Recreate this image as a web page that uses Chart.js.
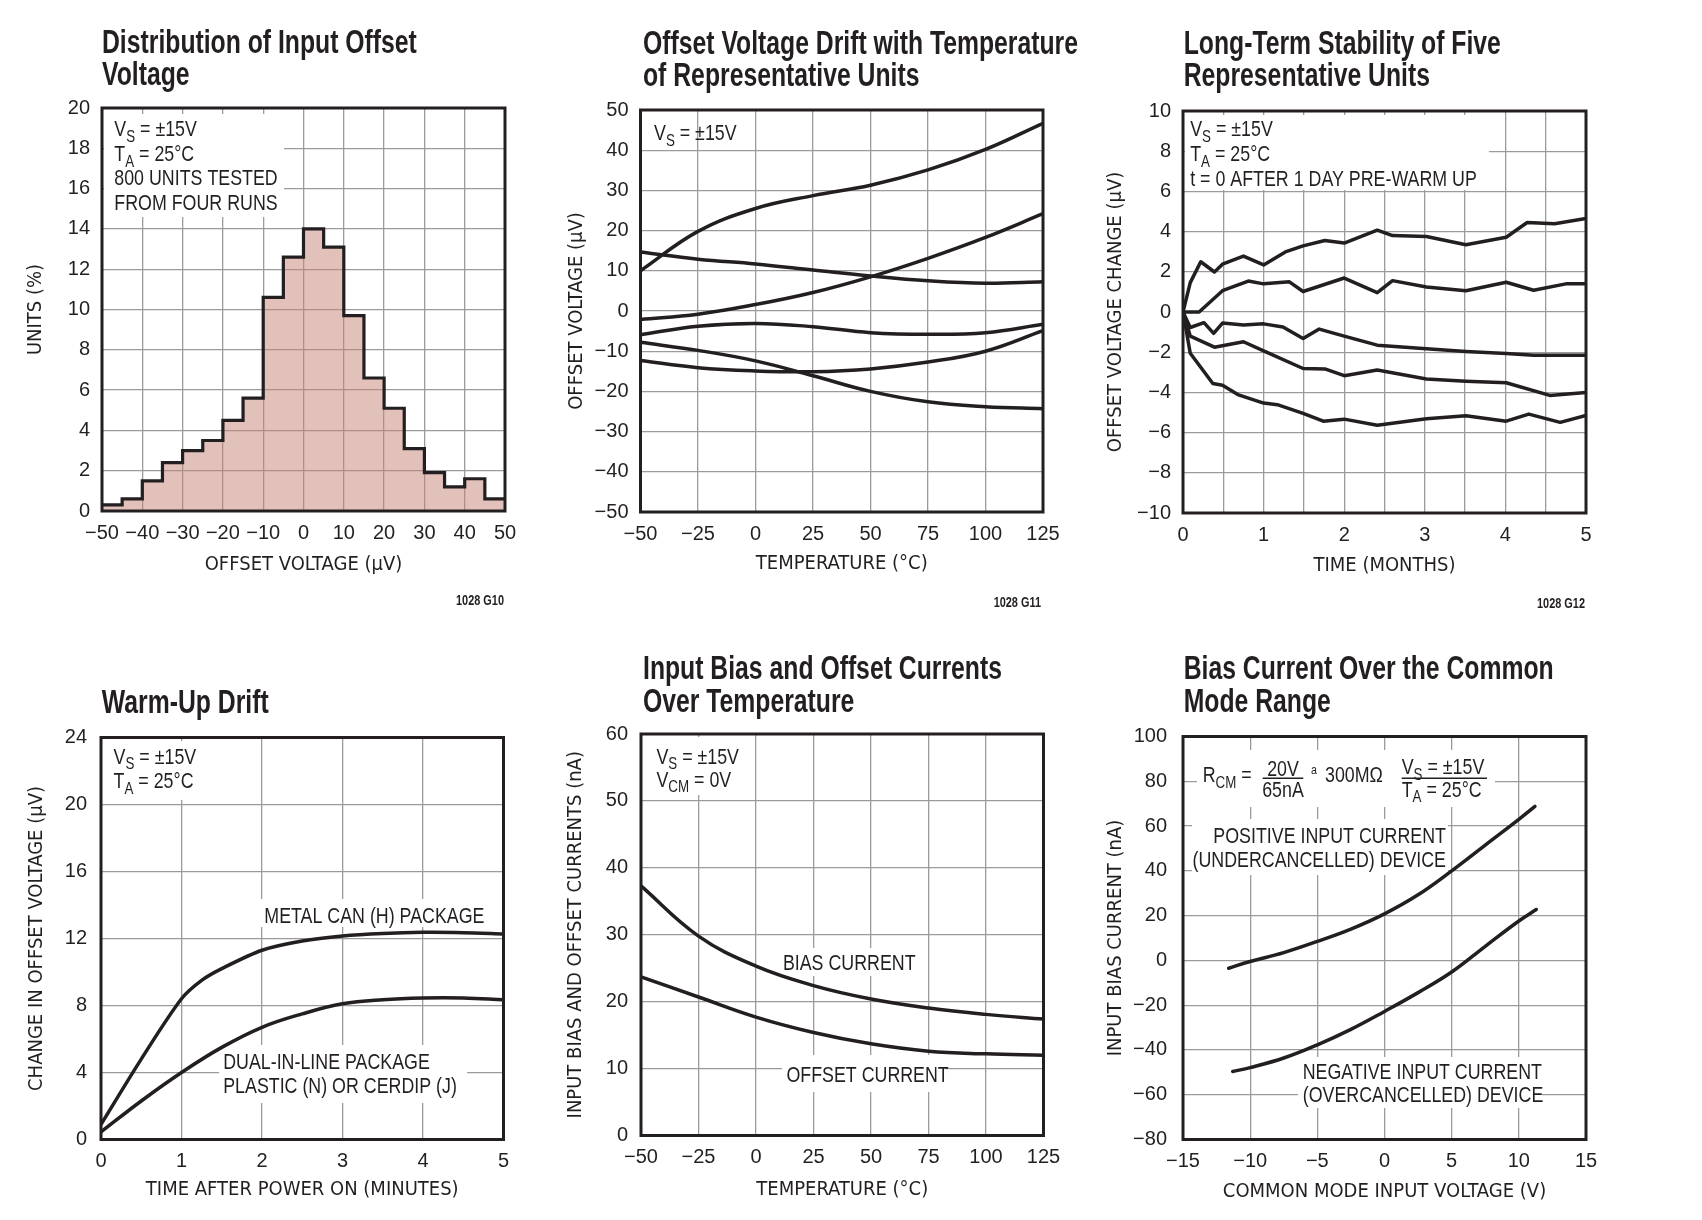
<!DOCTYPE html>
<html>
<head>
<meta charset="utf-8">
<script src="https://cdn.jsdelivr.net/npm/chart.js@4.4.1/dist/chart.umd.min.js"></script>
<style>
  html, body { margin: 0; background: #fff; }
  #page { position: relative; width: 1702px; height: 1220px; background: #fff; }
  #page canvas { position: absolute; }
</style>
</head>
<body>
<div id="page"></div>
<script>
// --- Distribution of input offset voltage (5 uV bins) ---
const offsetBinEdges = [-50, -45, -40, -35, -30, -25, -20, -15, -10, -5, 0, 5, 10, 15, 20, 25, 30, 35, 40, 45, 50];
const unitsPct = [0.3, 0.6, 1.5, 2.4, 3.0, 3.5, 4.5, 5.6, 10.6, 12.6, 14.0, 13.1, 9.7, 6.6, 5.1, 3.1, 1.9, 1.2, 1.6, 0.6];

// --- Offset voltage drift with temperature ---
const driftTemps = [-50, -25, 0, 25, 50, 75, 100, 125];
const driftUnitA = [10.0, 19.8, 25.5, 28.7, 31.3, 35.1, 40.2, 46.7];
const driftUnitB = [14.7, 12.9, 11.7, 10.2, 8.7, 7.5, 6.9, 7.3];
const driftUnitC = [-2.1, -0.8, 1.6, 4.6, 8.5, 13.1, 18.3, 24.2];
const driftUnitD = [-5.9, -3.8, -3.1, -3.9, -5.4, -5.8, -5.4, -3.3];
const driftUnitE = [-7.8, -9.8, -12.4, -16.1, -20.0, -22.6, -23.8, -24.3];
const driftUnitF = [-12.3, -14.1, -14.9, -15.1, -14.4, -12.7, -10.0, -4.9];

// --- Long-term stability (months, uV change) ---
const stabMonths1 = [0, 0.09, 0.22, 0.39, 0.49, 0.75, 1, 1.27, 1.49, 1.76, 2, 2.41, 2.6, 3.02, 3.51, 4.01, 4.27, 4.61, 5];
const stabUnit1 = [0, 1.46, 2.5, 1.99, 2.38, 2.78, 2.34, 2.99, 3.29, 3.56, 3.43, 4.07, 3.8, 3.76, 3.35, 3.72, 4.45, 4.39, 4.65];
const stabMonths2 = [0, 0.2, 0.49, 0.81, 1, 1.32, 1.49, 2, 2.41, 2.6, 3.02, 3.51, 4.01, 4.35, 4.75, 5];
const stabUnit2 = [0, 0, 1.06, 1.54, 1.4, 1.5, 1.02, 1.69, 0.96, 1.56, 1.24, 1.06, 1.48, 1.08, 1.4, 1.4];
const stabMonths3 = [0, 0.09, 0.26, 0.38, 0.49, 0.75, 1, 1.24, 1.49, 1.69, 2, 2.41, 3.02, 3.51, 4.01, 4.35, 5];
const stabUnit3 = [0, -0.77, -0.53, -1.06, -0.55, -0.65, -0.59, -0.75, -1.32, -0.85, -1.2, -1.65, -1.83, -1.97, -2.07, -2.15, -2.15];
const stabMonths4 = [0, 0.09, 0.39, 0.75, 1, 1.49, 1.76, 2, 2.41, 3.02, 3.51, 4.01, 4.55, 5];
const stabUnit4 = [0, -1.2, -1.75, -1.48, -1.93, -2.81, -2.83, -3.17, -2.89, -3.33, -3.44, -3.52, -4.15, -4.0];
const stabMonths5 = [0, 0.09, 0.37, 0.49, 0.68, 1, 1.17, 1.49, 1.74, 2, 2.41, 3.02, 3.51, 4.01, 4.29, 4.68, 5];
const stabUnit5 = [0, -2.05, -3.56, -3.64, -4.11, -4.53, -4.61, -5.04, -5.43, -5.33, -5.63, -5.31, -5.16, -5.43, -5.08, -5.49, -5.14];

// --- Warm-up drift ---
const metalCanMinutes = [0, 0.5, 1, 1.25, 1.5, 2, 2.5, 3, 3.5, 4, 4.5, 5];
const metalCanDrift = [0.9, 4.8, 8.4, 9.5, 10.2, 11.3, 11.85, 12.15, 12.3, 12.37, 12.35, 12.27];
const dipMinutes = [0, 0.5, 1, 1.5, 2, 2.5, 3, 3.5, 4, 4.5, 5];
const dipDrift = [0.45, 2.3, 4.0, 5.5, 6.7, 7.5, 8.1, 8.35, 8.45, 8.45, 8.35];

// --- Input bias and offset currents over temperature ---
const currentTemps = [-50, -25, 0, 25, 50, 75, 100, 125];
const biasCurrent = [37.3, 29.8, 25.3, 22.4, 20.4, 19.05, 18.1, 17.4];
const offsetCurrent = [23.7, 20.7, 17.7, 15.4, 13.7, 12.6, 12.2, 12.0];

// --- Bias current over the common mode range ---
const posCmVolts = [-11.6, -10, -7.5, -5, -2.5, 0, 2.5, 5, 7.5, 10, 11.2];
const posBiasNA = [-3.5, -0.5, 3.5, 8.5, 14, 20.8, 29.3, 40, 51.5, 63, 68.8];
const negCmVolts = [-11.3, -10, -7.5, -5, -2.5, 0, 2.5, 5, 7.5, 10, 11.3];
const negBiasNA = [-49.6, -47.9, -43.6, -37.7, -30.8, -22.8, -14.4, -5.2, 6.3, 17.6, 22.7];

const ink = '#231f20';
const gridGray = '#9b9b9b';
const titleFamily = "'DejaVu Sans Condensed', 'Liberation Sans Narrow', 'Liberation Sans', sans-serif";
const textFamily = "'Liberation Sans', Arial, sans-serif";
const AXIS_SIZE = 20;
const NOTE_SQUEEZE = 0.81;

const pts = (xs, ys) => xs.map((x, i) => ({ x, y: ys[i] }));
const minus = v => String(v).replace('-', '\u2212');

// draws a line of text made of plain / subscript / superscript pieces, squeezed horizontally
function drawParts(ctx, parts, x, y, size, align, squeeze, weight) {
  const pieces = parts.map(p => typeof p === 'string' ? { t: p, s: size, dy: 0 }
    : p.sub ? { t: p.sub, s: size * 0.75, dy: size * 0.24 }
    : { t: p.sup, s: size * 0.6, dy: -size * 0.38 });
  let w = 0;
  pieces.forEach(p => {
    ctx.font = `${weight || 'normal'} ${p.s}px ${textFamily}`;
    p.w = ctx.measureText(p.t).width;
    w += p.w;
  });
  ctx.save();
  ctx.translate(x, y);
  ctx.scale(squeeze, 1);
  ctx.fillStyle = ink;
  ctx.textAlign = 'left';
  ctx.textBaseline = 'alphabetic';
  let cx = align === 'right' ? -w : align === 'center' ? -w / 2 : 0;
  pieces.forEach(p => {
    ctx.font = `${weight || 'normal'} ${p.s}px ${textFamily}`;
    ctx.fillText(p.t, cx, p.dy);
    cx += p.w;
  });
  ctx.restore();
}

function decor(panel) {
  const ox = panel.canvas.x, oy = panel.canvas.y;
  return {
    id: 'decor',
    beforeDatasetsDraw(chart) {
      const ctx = chart.ctx;
      ctx.save();
      ctx.translate(-ox, -oy);
      ctx.fillStyle = '#fff';
      (panel.boxes || []).forEach(([x0, y0, x1, y1]) => ctx.fillRect(x0, y0, x1 - x0, y1 - y0));
      (panel.notes || []).forEach(n => drawParts(ctx, n.parts, n.x, n.y, n.size || 22, n.align, NOTE_SQUEEZE));
      ctx.strokeStyle = ink;
      ctx.lineWidth = 1.5;
      (panel.rules || []).forEach(([x0, y, x1]) => {
        ctx.beginPath(); ctx.moveTo(x0, y); ctx.lineTo(x1, y); ctx.stroke();
      });
      ctx.restore();
    },
    afterDatasetsDraw(chart) {
      const { ctx, chartArea: a } = chart;
      ctx.save();
      ctx.strokeStyle = ink;
      ctx.lineWidth = 3;
      ctx.strokeRect(a.left, a.top, a.right - a.left, a.bottom - a.top);
      ctx.restore();
    },
    afterDraw(chart) {
      const ctx = chart.ctx;
      ctx.save();
      ctx.translate(-ox, -oy);
      panel.title.forEach((line, i) => drawParts(ctx, [line], panel.titleX, panel.titleY[i], 33, 'left', 0.75, 'bold'));
      if (panel.code) drawParts(ctx, [panel.code[0]], panel.code[1], panel.code[2], 14, 'right', 0.78, 'bold');
      ctx.restore();
    }
  };
}

function axis(o, boxSize, pad) {
  return {
    type: 'linear',
    min: o.min,
    max: o.max,
    ticks: {
      stepSize: o.step, padding: pad, color: ink, autoSkip: false, maxRotation: 0,
      font: { family: textFamily, size: AXIS_SIZE },
      callback: o.label || minus
    },
    grid: { color: gridGray, lineWidth: 1.3, drawTicks: false },
    border: { display: false },
    title: { display: true, text: o.title, color: ink, padding: 0, font: { family: titleFamily, size: AXIS_SIZE } },
    afterFit: s => { if (s.isHorizontal()) s.height = boxSize; else s.width = boxSize; }
  };
}

function buildPanel(panel, datasets, xOpts, yOpts) {
  const c = panel.canvas, p = panel.plot;
  const lh = AXIS_SIZE * 1.2;
  const yLeft = panel.yTitleX - lh / 2;
  const xBottom = panel.xTitleY + lh / 2;
  const canvas = document.createElement('canvas');
  canvas.width = c.w;
  canvas.height = c.h;
  canvas.style.left = c.x + 'px';
  canvas.style.top = c.y + 'px';
  document.getElementById('page').appendChild(canvas);
  return new Chart(canvas, {
    type: 'line',
    data: { datasets },
    options: {
      responsive: false,
      animation: false,
      events: [],
      layout: { padding: { left: yLeft - c.x, top: p.T - c.y, right: c.x + c.w - p.R, bottom: c.y + c.h - xBottom } },
      plugins: { legend: { display: false }, tooltip: { enabled: false } },
      elements: {
        point: { radius: 0 },
        line: { borderColor: ink, borderWidth: 3.5, fill: false, tension: 0.4, borderCapStyle: 'round' }
      },
      scales: {
        x: axis(xOpts, xBottom - p.B, 10),
        y: axis(yOpts, p.L - yLeft, panel.yPad)
      }
    },
    plugins: [decor(panel)]
  });
}

const vs = ['V', { sub: 'S' }, ' = \u00b115V'];
const ta = ['T', { sub: 'A' }, ' = 25\u00b0C'];

// 1. Distribution of Input Offset Voltage
buildPanel({
  canvas: { x: 0, y: 0, w: 545, h: 620 },
  plot: { L: 102, T: 108, R: 505, B: 511 },
  yTitleX: 36, xTitleY: 564.5, yPad: 12,
  title: ['Distribution of Input Offset', 'Voltage'], titleX: 102, titleY: [53.4, 85],
  code: ['1028 G10', 504, 605],
  boxes: [[104, 114, 284, 217]],
  notes: [
    { parts: vs, x: 114.3, y: 136.4 },
    { parts: ta, x: 114.3, y: 161.3 },
    { parts: ['800 UNITS TESTED'], x: 114.3, y: 185 },
    { parts: ['FROM FOUR RUNS'], x: 114.3, y: 209.6 }
  ]
}, [{
  data: offsetBinEdges.map((x, i) => ({ x, y: unitsPct[Math.min(i, unitsPct.length - 1)] })),
  stepped: 'before',
  tension: 0,
  fill: 'origin',
  backgroundColor: 'rgba(199,131,119,0.5)',
  borderWidth: 3.2,
  borderJoinStyle: 'miter'
}], { min: -50, max: 50, step: 10, title: 'OFFSET VOLTAGE (\u00b5V)' },
   { min: 0, max: 20, step: 2, title: 'UNITS (%)' });

// 2. Offset Voltage Drift with Temperature
buildPanel({
  canvas: { x: 545, y: 0, w: 545, h: 620 },
  plot: { L: 640.5, T: 110, R: 1043, B: 512 },
  yTitleX: 577, xTitleY: 563.5, yPad: 12,
  title: ['Offset Voltage Drift with Temperature', 'of Representative Units'], titleX: 643, titleY: [54.2, 86.2],
  code: ['1028 G11', 1041, 607],
  notes: [{ parts: vs, x: 654, y: 140.4 }]
}, [driftUnitA, driftUnitB, driftUnitC, driftUnitD, driftUnitE, driftUnitF].map(u => ({ data: pts(driftTemps, u) })),
   { min: -50, max: 125, step: 25, title: 'TEMPERATURE (\u00b0C)' },
   { min: -50, max: 50, step: 10, title: 'OFFSET VOLTAGE (\u00b5V)' });

// 3. Long-Term Stability of Five Representative Units
buildPanel({
  canvas: { x: 1090, y: 0, w: 612, h: 620 },
  plot: { L: 1183, T: 111, R: 1586, B: 513 },
  yTitleX: 1116, xTitleY: 566, yPad: 12,
  title: ['Long-Term Stability of Five', 'Representative Units'], titleX: 1183.7, titleY: [54.2, 86.2],
  code: ['1028 G12', 1585, 608],
  boxes: [[1185, 115, 1489, 190]],
  notes: [
    { parts: vs, x: 1190.2, y: 136.4 },
    { parts: ta, x: 1190.2, y: 161.3 },
    { parts: ['t = 0 AFTER 1 DAY PRE-WARM UP'], x: 1190.2, y: 185.8 }
  ]
}, [
  [stabMonths1, stabUnit1], [stabMonths2, stabUnit2], [stabMonths3, stabUnit3],
  [stabMonths4, stabUnit4], [stabMonths5, stabUnit5]
].map(([m, u]) => ({ data: pts(m, u), tension: 0, borderJoinStyle: 'round' })),
   { min: 0, max: 5, step: 0.5, title: 'TIME (MONTHS)', label: v => Number.isInteger(v) ? String(v) : '' },
   { min: -10, max: 10, step: 2, title: 'OFFSET VOLTAGE CHANGE (\u00b5V)' });

// 4. Warm-Up Drift
buildPanel({
  canvas: { x: 0, y: 620, w: 545, h: 600 },
  plot: { L: 101, T: 737.5, R: 503.5, B: 1139.5 },
  yTitleX: 37, xTitleY: 1190, yPad: 14,
  title: ['Warm-Up Drift'], titleX: 101.8, titleY: [713],
  boxes: [[104, 741, 202, 800], [258, 899, 492, 927], [219, 1045, 467, 1103]],
  notes: [
    { parts: vs, x: 113.6, y: 763.5 },
    { parts: ta, x: 113.6, y: 788.4 },
    { parts: ['METAL CAN (H) PACKAGE'], x: 264.3, y: 923 },
    { parts: ['DUAL-IN-LINE PACKAGE'], x: 223.2, y: 1069 },
    { parts: ['PLASTIC (N) OR CERDIP (J)'], x: 223.2, y: 1092.6 }
  ]
}, [
  { data: pts(metalCanMinutes, metalCanDrift), tension: 0.3 },
  { data: pts(dipMinutes, dipDrift) }
], { min: 0, max: 5, step: 1, title: 'TIME AFTER POWER ON (MINUTES)' },
   { min: 0, max: 24, step: 4, title: 'CHANGE IN OFFSET VOLTAGE (\u00b5V)' });

// 5. Input Bias and Offset Currents Over Temperature
buildPanel({
  canvas: { x: 545, y: 620, w: 545, h: 600 },
  plot: { L: 641, T: 734, R: 1043.5, B: 1135.5 },
  yTitleX: 575.5, xTitleY: 1189.5, yPad: 13,
  title: ['Input Bias and Offset Currents', 'Over Temperature'], titleX: 643, titleY: [678.5, 711.8],
  boxes: [[643, 737, 746, 795], [778, 948, 918, 976], [782, 1055, 945, 1092]],
  notes: [
    { parts: vs, x: 656.4, y: 763.5 },
    { parts: ['V', { sub: 'CM' }, ' = 0V'], x: 656.4, y: 787.2 },
    { parts: ['BIAS CURRENT'], x: 782.9, y: 970.2 },
    { parts: ['OFFSET CURRENT'], x: 786.4, y: 1081.9 }
  ]
}, [
  { data: pts(currentTemps, biasCurrent) },
  { data: pts(currentTemps, offsetCurrent) }
], { min: -50, max: 125, step: 25, title: 'TEMPERATURE (\u00b0C)' },
   { min: 0, max: 60, step: 10, title: 'INPUT BIAS AND OFFSET CURRENTS (nA)' });

// 6. Bias Current Over the Common Mode Range
buildPanel({
  canvas: { x: 1090, y: 620, w: 612, h: 600 },
  plot: { L: 1183, T: 736.5, R: 1586, B: 1139.5 },
  yTitleX: 1116, xTitleY: 1192, yPad: 16,
  title: ['Bias Current Over the Common', 'Mode Range'], titleX: 1183.7, titleY: [678.5, 711.8],
  boxes: [[1197, 750, 1495, 807], [1192, 819, 1448, 875], [1298, 1057, 1542, 1108]],
  rules: [[1262.7, 778.3, 1303.3], [1401.7, 778.3, 1487]],
  notes: [
    { parts: ['R', { sub: 'CM' }, ' ='], x: 1202.7, y: 782.3 },
    { parts: ['20V'], x: 1283, y: 775.7, align: 'center' },
    { parts: ['65nA'], x: 1283, y: 796.7, align: 'center' },
    { parts: [{ sup: 'a' }], x: 1314, y: 782.3, align: 'center' },
    { parts: ['300M\u03a9'], x: 1325, y: 782.3 },
    { parts: vs, x: 1401.7, y: 774.3 },
    { parts: ta, x: 1401.7, y: 796.7 },
    { parts: ['POSITIVE INPUT CURRENT'], x: 1446, y: 843.1, align: 'right' },
    { parts: ['(UNDERCANCELLED) DEVICE'], x: 1446, y: 866.8, align: 'right' },
    { parts: ['NEGATIVE INPUT CURRENT'], x: 1302.7, y: 1078.5 },
    { parts: ['(OVERCANCELLED) DEVICE'], x: 1302.7, y: 1101.5 }
  ]
}, [
  { data: pts(posCmVolts, posBiasNA) },
  { data: pts(negCmVolts, negBiasNA) }
], { min: -15, max: 15, step: 5, title: 'COMMON MODE INPUT VOLTAGE (V)' },
   { min: -80, max: 100, step: 20, title: 'INPUT BIAS CURRENT (nA)' });
</script>
</body>
</html>
